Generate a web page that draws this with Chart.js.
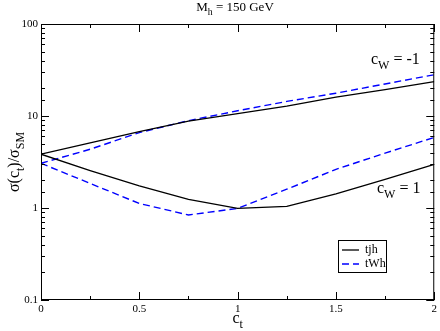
<!DOCTYPE html>
<html lang="en">
<head>
    <meta charset="UTF-8">
    <title>Cross section ratio vs c_t</title>
    <script src="https://cdn.jsdelivr.net/npm/chart.js@4.4.1/dist/chart.umd.min.js"></script>
    <style>
        body {
            margin: 0;
            background: white;
        }
        #wrap {
            width: 440px;
            height: 331px;
            position: relative;
        }
    </style>
</head>
<body>
    <div id="wrap">
        <canvas id="chart" width="440" height="331"></canvas>
    </div>

    <script>
        // c_t values (x axis)
        const ct = [0, 0.25, 0.5, 0.75, 1, 1.25, 1.5, 1.75, 2];

        // c_W = 1 branch
        const tjhPos = [3.84, 2.55, 1.74, 1.24, 0.99, 1.04, 1.42, 2.05, 2.98];
        const tWhPos = [3.06, 1.85, 1.12, 0.84, 0.99, 1.60, 2.63, 3.95, 5.85];

        // c_W = -1 branch
        const tjhNeg = [3.84, 5.1, 6.75, 8.8, 10.6, 12.8, 16.0, 19.3, 23.6];
        const tWhNeg = [3.06, 4.35, 6.6, 8.9, 11.4, 14.4, 17.7, 22.3, 28.1];

        const yTickLabels = [0.1, 1, 10, 100];
        const xTickLabels = [0, 0.5, 1, 1.5, 2];

        const FONT = "'Liberation Serif', 'DejaVu Serif', serif";

        function pts(ys) {
            return ct.map((x, i) => ({ x: x, y: ys[i] }));
        }

        // draw a string made of [text, isSubscript] pieces
        function drawRich(ctx, parts, x, y, size, align) {
            let total = 0;
            parts.forEach(p => {
                ctx.font = (p[1] ? size * 0.75 : size) + "px " + FONT;
                total += ctx.measureText(p[0]).width;
            });
            let cx = align === "center" ? x - total / 2 : x;
            ctx.textAlign = "left";
            ctx.textBaseline = "alphabetic";
            parts.forEach(p => {
                ctx.font = (p[1] ? size * 0.75 : size) + "px " + FONT;
                ctx.fillText(p[0], cx, p[1] ? y + size * 0.3 : y);
                cx += ctx.measureText(p[0]).width;
            });
        }

        // frame, inward ticks, text and legend
        const decorations = {
            id: "decorations",
            afterDraw(chart) {
                const ctx = chart.ctx;
                const a = chart.chartArea;
                const xs = chart.scales.x;
                const ys = chart.scales.y;
                ctx.save();
                ctx.strokeStyle = "#000";
                ctx.lineWidth = 1;
                ctx.strokeRect(a.left + 0.5, a.top + 0.5, a.right - a.left - 1, a.bottom - a.top - 1);

                ctx.beginPath();
                xs.ticks.forEach(t => {
                    const px = Math.round(xs.getPixelForValue(t.value)) + 0.5;
                    const major = Math.abs(t.value * 2 - Math.round(t.value * 2)) < 1e-6;
                    const len = major ? 8 : 4;
                    ctx.moveTo(px, a.bottom);
                    ctx.lineTo(px, a.bottom - len);
                    ctx.moveTo(px, a.top);
                    ctx.lineTo(px, a.top + len);
                });
                ys.ticks.forEach(t => {
                    const py = Math.round(ys.getPixelForValue(t.value)) + 0.5;
                    const major = yTickLabels.some(v => Math.abs(v - t.value) < 1e-9);
                    const len = major ? 8 : 4;
                    ctx.moveTo(a.left, py);
                    ctx.lineTo(a.left + len, py);
                    ctx.moveTo(a.right, py);
                    ctx.lineTo(a.right - len, py);
                });
                ctx.stroke();

                ctx.fillStyle = "#000";
                // title
                drawRich(ctx, [["M", false], ["h", true], [" = 150 GeV", false]], 235, 11, 13, "center");
                // x axis label
                drawRich(ctx, [["c", false], ["t", true]], (a.left + a.right) / 2, 323, 16, "center");
                // y axis label (rotated)
                ctx.save();
                ctx.translate(19, (a.top + a.bottom) / 2);
                ctx.rotate(-Math.PI / 2);
                drawRich(ctx, [["\u03c3(c", false], ["t", true], [")/\u03c3", false], ["SM", true]], 0, 0, 16, "center");
                ctx.restore();

                // curve annotations
                drawRich(ctx, [["c", false], ["W", true], [" = -1", false]], 371, 64, 16, "left");
                drawRich(ctx, [["c", false], ["W", true], [" = 1", false]], 377, 193, 16, "left");

                // legend box
                const lx = 338, ly = 240, lw = 48, lh = 32;
                ctx.fillStyle = "#fff";
                ctx.fillRect(lx, ly, lw, lh);
                ctx.strokeStyle = "#000";
                ctx.lineWidth = 1;
                ctx.strokeRect(lx + 0.5, ly + 0.5, lw, lh);
                const entries = [chart.data.datasets[0], chart.data.datasets[1]];
                entries.forEach((ds, i) => {
                    const ry = ly + 10 + i * 14;
                    ctx.beginPath();
                    ctx.strokeStyle = ds.borderColor;
                    ctx.lineWidth = ds.borderWidth;
                    ctx.setLineDash(ds.borderDash || []);
                    ctx.moveTo(lx + 4, ry);
                    ctx.lineTo(lx + 21, ry);
                    ctx.stroke();
                    ctx.setLineDash([]);
                    ctx.fillStyle = "#000";
                    ctx.font = "12px " + FONT;
                    ctx.textAlign = "left";
                    ctx.textBaseline = "middle";
                    ctx.fillText(ds.label, lx + 27, ry);
                });
                ctx.restore();
            }
        };

        const solid = { borderColor: "#000000", borderWidth: 1.3, pointRadius: 0, fill: false, tension: 0 };
        const dashed = { borderColor: "#0000ff", borderWidth: 1.4, borderDash: [7, 4], pointRadius: 0, fill: false, tension: 0 };

        new Chart(document.getElementById("chart").getContext("2d"), {
            type: "line",
            data: {
                datasets: [
                    Object.assign({ label: "tjh", data: pts(tjhPos) }, solid),
                    Object.assign({ label: "tWh", data: pts(tWhPos) }, dashed),
                    Object.assign({ label: "tjh cW=-1", data: pts(tjhNeg) }, solid),
                    Object.assign({ label: "tWh cW=-1", data: pts(tWhNeg) }, dashed)
                ]
            },
            options: {
                responsive: false,
                animation: false,
                layout: { padding: { left: 0, right: 4, top: 24, bottom: 0 } },
                plugins: {
                    legend: { display: false },
                    tooltip: { enabled: false }
                },
                scales: {
                    x: {
                        type: "linear",
                        min: 0,
                        max: 2,
                        afterFit: s => { s.height = 31; },
                        grid: { display: false, drawTicks: false },
                        border: { display: false },
                        ticks: {
                            stepSize: 0.25,
                            padding: 3,
                            maxRotation: 0,
                            autoSkip: false,
                            color: "#000",
                            font: { family: FONT, size: 11 },
                            callback: v => xTickLabels.includes(v) ? String(v) : ""
                        }
                    },
                    y: {
                        type: "logarithmic",
                        min: 0.1,
                        max: 100,
                        afterFit: s => { s.width = 41; },
                        grid: { display: false, drawTicks: false },
                        border: { display: false },
                        ticks: {
                            padding: 3,
                            autoSkip: false,
                            color: "#000",
                            font: { family: FONT, size: 11 },
                            callback: v => yTickLabels.some(t => Math.abs(t - v) < 1e-9) ? String(v) : ""
                        }
                    }
                }
            },
            plugins: [decorations]
        });
    </script>
</body>
</html>
